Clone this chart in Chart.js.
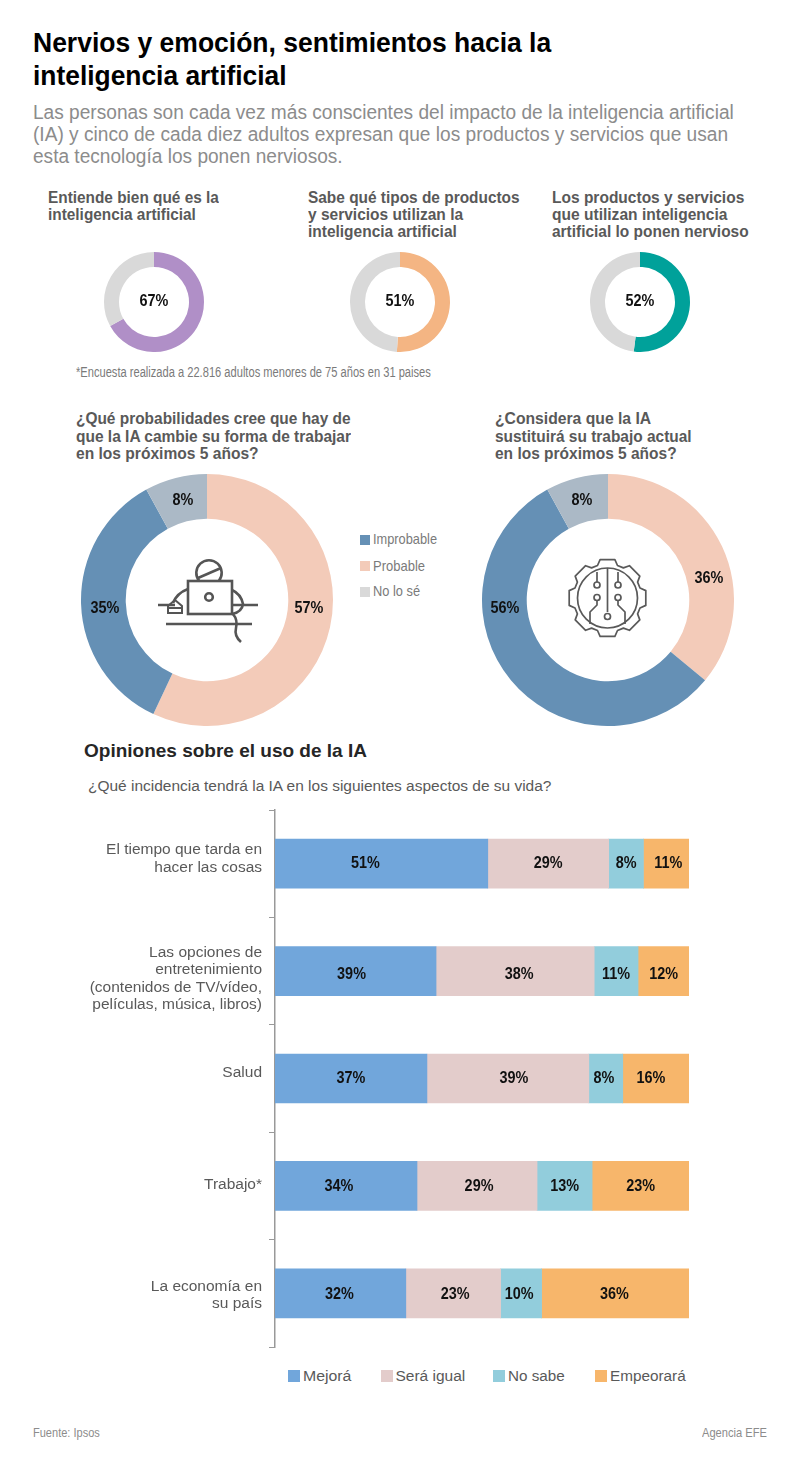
<!DOCTYPE html>
<html lang="es">
<head>
<meta charset="utf-8">
<title>Nervios y emoción, sentimientos hacia la inteligencia artificial</title>
<script src="https://cdn.jsdelivr.net/npm/chart.js@4"></script>
<style>
  html, body { margin: 0; padding: 0; background: #fff; }
  #page { position: relative; width: 800px; height: 1470px; overflow: hidden; font-family: "Liberation Sans", Arial, sans-serif; }
  #page canvas, #page svg { position: absolute; }
  .t { position: absolute; white-space: nowrap; line-height: 24px; transform-origin: 0 50%; }
  .sq { position: absolute; }
</style>
</head>
<body>
<div id="page">
  <!-- iconos decorativos de los anillos grandes -->
  <svg style="left:150px;top:550px;z-index:2" width="120" height="100" viewBox="150 550 120 100" fill="none" stroke="#555" stroke-width="2.6">
    <path d="M199.2 581 A12.7 12.7 0 1 1 218.8 581"/>
    <path d="M198 578 L221 568"/>
    <rect x="188" y="581" width="44" height="33"/>
    <circle cx="209" cy="597" r="3.8"/>
    <path d="M158 605 H175 M232 605 H258"/>
    <path d="M188 589 Q177 593 173 603 M232 590 Q241 594 243 604 Q242 612 232 614"/>
    <path d="M168 613 V606 L175 600 L182 606 V613 Z M168 608 H182" stroke-width="2"/>
    <path d="M166 624 H252"/>
    <path d="M233 614 Q238 620 236 628 Q234 636 241 642"/>
  </svg>
  <svg style="left:560px;top:550px;z-index:2" width="96" height="96" viewBox="560 550 96 96" fill="none" stroke="#595959" stroke-width="1.7">
    <path id="gear" stroke-linejoin="round"/>
    <circle cx="607.5" cy="598" r="30"/>
    <path d="M607.5 568 V612"/>
    <circle cx="607.5" cy="616.5" r="3"/>
    <path d="M597 572 V582 M618 572 V582"/>
    <circle cx="597" cy="585" r="3"/><circle cx="618" cy="585" r="3"/>
    <circle cx="597" cy="597.5" r="3"/><circle cx="618" cy="597.5" r="3"/>
    <path d="M597 600.5 V605 L590 612 V624 M618 600.5 V605 L625 612 V624"/>
  </svg>
</div>

<script>
// datos
const smallValues = [67, 51, 52];

const donutLabels = ["Probable", "Improbable", "No lo sé"];
const workChange = [57, 35, 8];
const workReplace = [36, 56, 8];

const aspects = [
  ["El tiempo que tarda en", "hacer las cosas"],
  ["Las opciones de", "entretenimiento", "(contenidos de TV/vídeo,", "películas, música, libros)"],
  ["Salud"],
  ["Trabajo*"],
  ["La economía en", "su país"]
];
const seriesNames = ["Mejorá", "Será igual", "No sabe", "Empeorará"];
const mejora = [51.4, 38.9, 36.7, 34.3, 31.6];
const igual = [29.2, 38.2, 39.1, 29.0, 22.9];
const noSabe = [8.4, 10.6, 8.2, 13.3, 9.9];
const empeora = [11.0, 12.3, 16.0, 23.4, 35.6];

// estilos
const grayText = "#8c8c8c", darkText = "#595959";
const smallColors = ["#b08fc7", "#f4b583", "#00a19a"];
const ringGray = "#d9d9d9";
const donutColors = ["#f3cbb9", "#6590b5", "#abb9c6"];
const barColors = ["#71a6db", "#e3cccb", "#92cddc", "#f7b66b"];
const fontFamily = "'Liberation Sans', Arial, sans-serif";
const page = document.getElementById("page");

Chart.defaults.font.family = fontFamily;
Chart.defaults.animation = false;

// linea de texto, ajustada al ancho que ocupa en la imagen
function addText(text, x, y, width, size, weight, color) {
  const el = document.createElement("div");
  el.className = "t";
  el.textContent = text;
  el.style.left = x + "px";
  el.style.top = (y - 12) + "px";
  el.style.fontSize = size + "px";
  el.style.fontWeight = weight;
  el.style.color = color;
  page.appendChild(el);
  el.style.transform = "scaleX(" + (width / el.offsetWidth) + ")";
}

function addSquare(x, y, size, color) {
  const el = document.createElement("div");
  el.className = "sq";
  el.style.cssText = "left:" + x + "px;top:" + y + "px;width:" + size + "px;height:" + size + "px;background:" + color;
  page.appendChild(el);
}

function addCanvas(x, y, w, h) {
  const c = document.createElement("canvas");
  c.width = w;
  c.height = h;
  c.style.left = x + "px";
  c.style.top = y + "px";
  c.style.width = w + "px";
  c.style.height = h + "px";
  page.appendChild(c);
  return c;
}

// cifra en negrita algo estrecha, como en el original
function drawFigure(ctx, text, x, y) {
  ctx.save();
  ctx.translate(x, y);
  ctx.scale(0.9, 1);
  ctx.font = "bold 16px " + fontFamily;
  ctx.fillStyle = "#111";
  ctx.textAlign = "center";
  ctx.textBaseline = "middle";
  ctx.fillText(text, 0, 0);
  ctx.restore();
}

// titulares
addText("Nervios y emoción, sentimientos hacia la", 33, 43, 518, 27, "bold", "#000");
addText("inteligencia artificial", 33, 76, 254, 27, "bold", "#000");
addText("Las personas son cada vez más conscientes del impacto de la inteligencia artificial", 33, 112, 701, 20, "normal", grayText);
addText("(IA) y cinco de cada diez adultos expresan que los productos y servicios que usan", 33, 134, 695, 20, "normal", grayText);
addText("esta tecnología los ponen nerviosos.", 33, 156, 310, 20, "normal", grayText);

addText("Entiende bien qué es la", 48, 198, 171, 16, "bold", darkText);
addText("inteligencia artificial", 48, 215, 148, 16, "bold", darkText);
addText("Sabe qué tipos de productos", 308, 198, 212, 16, "bold", darkText);
addText("y servicios utilizan la", 308, 215, 155, 16, "bold", darkText);
addText("inteligencia artificial", 308, 232, 149, 16, "bold", darkText);
addText("Los productos y servicios", 552, 198, 192, 16, "bold", darkText);
addText("que utilizan inteligencia", 552, 215, 175, 16, "bold", darkText);
addText("artificial lo ponen nervioso", 552, 232, 197, 16, "bold", darkText);
addText("*Encuesta realizada a 22.816 adultos menores de 75 años en 31 paises", 76, 372, 355, 14, "normal", "#7a7a7a");

addText("¿Qué probabilidades cree que hay de", 76, 419, 275, 16, "bold", darkText);
addText("que la IA cambie su forma de trabajar", 76, 437, 275, 16, "bold", darkText);
addText("en los próximos 5 años?", 76, 454, 183, 16, "bold", darkText);
addText("¿Considera que la IA", 495, 419, 156, 16, "bold", darkText);
addText("sustituirá su trabajo actual", 495, 437, 197, 16, "bold", darkText);
addText("en los próximos 5 años?", 495, 454, 182, 16, "bold", darkText);

addSquare(360, 535, 10, donutColors[1]);
addText(donutLabels[1], 373, 539, 64, 15, "normal", "#7a7a7a");
addSquare(360, 561, 10, donutColors[0]);
addText(donutLabels[0], 373, 566, 52, 15, "normal", "#7a7a7a");
addSquare(360, 587, 10, ringGray);
addText(donutLabels[2], 373, 591, 47, 15, "normal", "#7a7a7a");

addText("Opiniones sobre el uso de la IA", 84, 751, 283, 19, "bold", "#262626");
addText("¿Qué incidencia tendrá la IA en los siguientes aspectos de su vida?", 88, 786, 463, 15.5, "normal", "#595959");

const legendX = [288, 381, 493, 595];
const legendW = [48, 70, 57, 76];
seriesNames.forEach(function (name, i) {
  addSquare(legendX[i], 1370, 12, barColors[i]);
  addText(name, legendX[i] + 14.5, 1376, legendW[i], 15.5, "normal", darkText);
});

addText("Fuente: Ipsos", 33, 1433, 67, 13, "normal", grayText);
addText("Agencia EFE", 702, 1433, 65, 13, "normal", grayText);

// texto dentro de los anillos; offsets medidos desde el centro
const ringText = {
  id: "ringText",
  afterDraw(chart, args, opts) {
    const arc = chart.getDatasetMeta(0).data[0];
    opts.items.forEach(function (it) {
      drawFigure(chart.ctx, it.text, arc.x + it.dx, arc.y + it.dy);
    });
  }
};

function makeDonut(canvas, values, colors, cutout, items) {
  return new Chart(canvas, {
    type: "doughnut",
    data: {
      datasets: [{ data: values, backgroundColor: colors, borderWidth: 0 }]
    },
    options: {
      responsive: false,
      cutout: cutout,
      plugins: {
        legend: { display: false },
        tooltip: { enabled: false },
        ringText: { items: items }
      }
    },
    plugins: [ringText]
  });
}

const smallCenters = [153.5, 400, 640];
smallValues.forEach(function (v, i) {
  makeDonut(addCanvas(smallCenters[i] - 50, 252, 100, 100), [v, 100 - v], [smallColors[i], ringGray], "70%",
    [{ text: v + "%", dx: 0, dy: 0 }]);
});

makeDonut(addCanvas(81, 474, 252, 252), workChange, donutColors, "64.5%", [
  { text: workChange[0] + "%", dx: 102, dy: 9 },
  { text: workChange[1] + "%", dx: -102, dy: 9 },
  { text: workChange[2] + "%", dx: -24, dy: -99 }
]);
makeDonut(addCanvas(482, 474, 252, 252), workReplace, donutColors, "64.5%", [
  { text: workReplace[0] + "%", dx: 101, dy: -21 },
  { text: workReplace[1] + "%", dx: -103, dy: 9 },
  { text: workReplace[2] + "%", dx: -26, dy: -99 }
]);

// la cifra no siempre esta centrada en su tramo en el original
const labelShift = [
  [-16, 0, 0, 2],
  [-4, 4, 0, 0],
  [0, 6, -2, -5],
  [-7, 2, 0, 0],
  [-1, 2, -2, -1]
];
const rowShift = [0, 3, 0, 1, 1];
// lo mismo con las etiquetas del eje
const axisShift = [-5, 7.5, -6, -1, 2];

const barText = {
  id: "barText",
  afterDatasetsDraw(chart) {
    chart.data.datasets.forEach(function (ds, s) {
      chart.getDatasetMeta(s).data.forEach(function (bar, i) {
        const mid = (bar.x + bar.base) / 2;
        drawFigure(chart.ctx, Math.round(ds.data[i]) + "%", mid + labelShift[i][s], bar.y + rowShift[i]);
      });
    });
  }
};

const axisText = {
  id: "axisText",
  afterDraw(chart) {
    const ctx = chart.ctx, scale = chart.scales.y;
    ctx.save();
    ctx.font = "15.5px " + fontFamily;
    ctx.fillStyle = "#595959";
    ctx.textAlign = "right";
    ctx.textBaseline = "middle";
    aspects.forEach(function (lines, i) {
      const center = scale.getPixelForTick(i) + axisShift[i];
      lines.forEach(function (line, k) {
        ctx.fillText(line, scale.right - 13, center + (k - (lines.length - 1) / 2) * 17.5);
      });
    });
    ctx.restore();
  }
};

const barValues = [mejora, igual, noSabe, empeora];
new Chart(addCanvas(0, 800, 800, 560), {
  type: "bar",
  data: {
    labels: aspects,
    datasets: seriesNames.map(function (name, i) {
      return { label: name, data: barValues[i], backgroundColor: barColors[i], barThickness: 49, borderWidth: 0 };
    })
  },
  options: {
    responsive: false,
    indexAxis: "y",
    layout: { padding: { top: 10, bottom: 13, right: 111, left: 0 } },
    plugins: { legend: { display: false }, tooltip: { enabled: false } },
    scales: {
      x: { stacked: true, min: 0, max: 100, display: false },
      y: {
        stacked: true,
        afterFit: function (scale) {
          scale.width = 275;
          scale.paddingTop = 0;
          scale.paddingBottom = 0;
        },
        grid: { offset: true, drawOnChartArea: false, tickLength: 6, color: "#999", tickColor: "#999" },
        border: { color: "#999", width: 1.5 },
        ticks: { display: false }
      }
    }
  },
  plugins: [barText, axisText]
});

// contorno del engranaje
let gearPath = "";
for (let i = 0; i < 8; i++) {
  const a = (i * Math.PI) / 4;
  const pts = [[34, a - 0.30], [39, a - 0.19], [39, a + 0.19], [34, a + 0.30]];
  pts.forEach(function (p, k) {
    const px = (607.5 + p[0] * Math.sin(p[1])).toFixed(1);
    const py = (598 - p[0] * Math.cos(p[1])).toFixed(1);
    gearPath += (i === 0 && k === 0 ? "M" : "L") + px + " " + py + " ";
  });
}
document.getElementById("gear").setAttribute("d", gearPath + "Z");
</script>
</body>
</html>
